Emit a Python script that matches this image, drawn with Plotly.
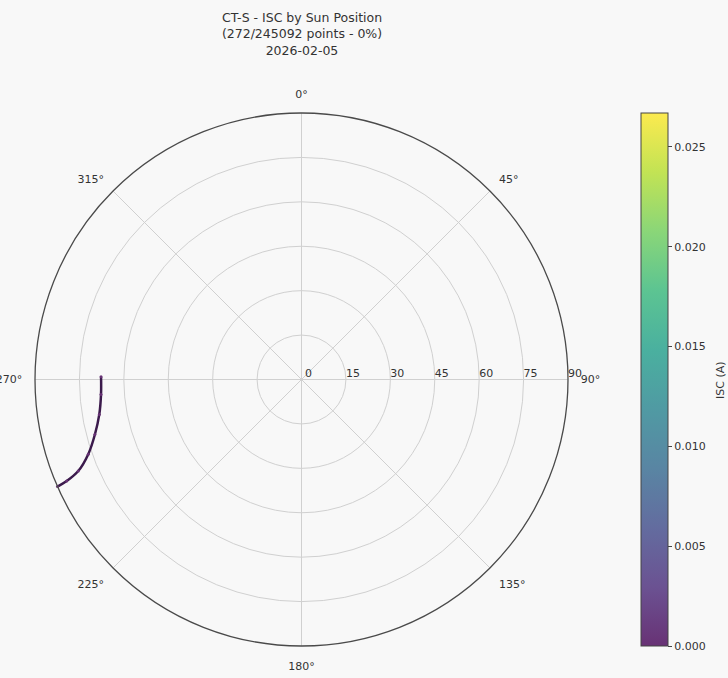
import plotly.graph_objects as go
from plotly.colors import sequential, hex_to_rgb

# Sun path samples: azimuth (deg, clockwise from north) and zenith angle (deg)
azimuth = [270.8, 265.7, 260.2, 255.1, 250.7, 247.7, 246.6, 246.3]
zenith = [67.7, 67.9, 69.3, 72.2, 76.3, 81.5, 86.4, 90.0]
isc = [0.0, 0.0, 0.0, 0.0, 0.0, 0.0, 0.0, 0.0]

isc_min, isc_max = 0.0, 0.0267
cbar_ticks = [0.0, 0.005, 0.010, 0.015, 0.020, 0.025]
radial_ticks = [0, 15, 30, 45, 60, 75, 90]
angle_ticks = [0, 45, 90, 135, 180, 225, 270, 315]
angle_labels = [f"{a}°" for a in angle_ticks]

title_text = "CT-S - ISC by Sun Position<br>(272/245092 points - 0%)<br>2026-02-05"
cbar_title = "ISC (A)"

FONT = "DejaVu Sans"
BG = "#f8f8f8"
GRID = "#d0d0d0"
TEXT = "#333333"
NBSP = "\u00a0"


def faded_scale(colors, alpha=0.8, bg=(248, 248, 248)):
    """Viridis blended onto the background, as if drawn semi-transparent."""
    out = []
    n = len(colors) - 1
    for i, c in enumerate(colors):
        r, g, b = hex_to_rgb(c)
        mix = [round(alpha * v + (1 - alpha) * w) for v, w in zip((r, g, b), bg)]
        out.append([i / n, f"rgb({mix[0]},{mix[1]},{mix[2]})"])
    return out


scale = faded_scale(sequential.Viridis)

fig = go.Figure()
fig.add_trace(go.Scatterpolar(
    r=zenith,
    theta=azimuth,
    mode="lines+markers",
    line=dict(color="#3b1a4c", width=2.5, shape="spline"),
    marker=dict(
        size=3,
        color=isc,
        colorscale=scale,
        cmin=isc_min,
        cmax=isc_max,
        showscale=True,
        colorbar=dict(
            x=641 / 728, xanchor="left", xpad=0,
            y=1 - 379.5 / 678, yanchor="middle", ypad=0,
            len=533 / 678, lenmode="fraction",
            thickness=27,
            outlinecolor="#444444", outlinewidth=1,
            ticks="outside", ticklen=4, tickcolor="#444444",
            tickvals=cbar_ticks, tickformat=".3f",
            tickfont=dict(family=FONT, size=11, color=TEXT),
        ),
    ),
    showlegend=False,
    hoverinfo="skip",
))

# colorbar label, set to the right of the tick labels
fig.add_annotation(
    text=cbar_title, textangle=-90,
    x=720 / 728, y=1 - 380 / 678, xref="paper", yref="paper",
    xanchor="center", yanchor="middle", showarrow=False,
    font=dict(family=FONT, size=11, color=TEXT),
)

fig.update_layout(
    width=728, height=678,
    margin=dict(l=0, r=0, t=0, b=0, autoexpand=False),
    paper_bgcolor=BG,
    font=dict(family=FONT, color=TEXT),
    title=dict(text=title_text, x=302 / 728, xanchor="center",
               y=1 - 22 / 678, yanchor="top", yref="container",
               font=dict(family=FONT, size=12.5, color=TEXT)),
    polar=dict(
        domain=dict(x=[35 / 728, 568 / 728], y=[1 - 647 / 678, 1 - 112 / 678]),
        bgcolor=BG,
        angularaxis=dict(
            rotation=90, direction="clockwise",
            tickvals=angle_ticks, ticktext=angle_labels,
            tickfont=dict(family=FONT, size=11, color=TEXT),
            ticks="outside", ticklen=10, tickcolor="rgba(0,0,0,0)",
            showline=True, linecolor="#4a4a4a", linewidth=1.3,
            gridcolor=GRID, gridwidth=1,
        ),
        radialaxis=dict(
            range=[0, 90], tickvals=radial_ticks,
            ticktext=[NBSP * 4 + str(v) for v in radial_ticks],
            showline=False, ticks="",
            gridcolor=GRID, gridwidth=1,
            tickfont=dict(family=FONT, size=11, color=TEXT),
            angle=0, side="counterclockwise",
        ),
    ),
)

fig.write_html("out.html")
